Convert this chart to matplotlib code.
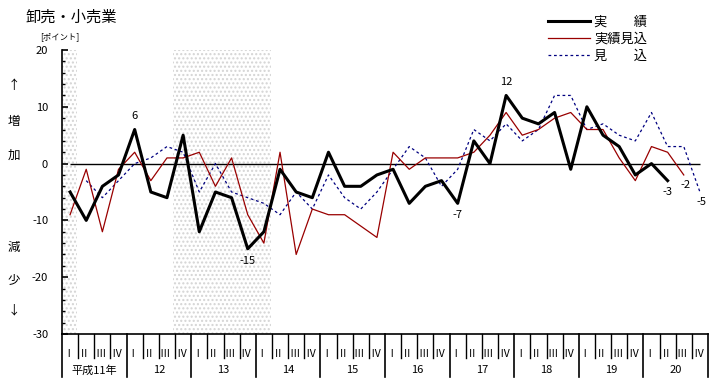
import matplotlib.pyplot as plt

plt.rcParams['font.family'] = ['Noto Sans CJK JP', 'DejaVu Sans']

# data: quarterly, 平成11年 I to 平成20年 IV (40 quarters)
quarters = ['Ⅰ', 'Ⅱ', 'Ⅲ', 'Ⅳ']
years = ['平成11年', '12', '13', '14', '15', '16', '17', '18', '19', '20']

actual = [-5, -10, -4, -2, 6, -5, -6, 5, -12, -5,
          -6, -15, -12, -1, -5, -6, 2, -4, -4, -2,
          -1, -7, -4, -3, -7, 4, 0, 12, 8, 7,
          9, -1, 10, 5, 3, -2, 0, -3]
estimate = [-9, -1, -12, -1, 2, -3, 1, 1, 2, -4,
            1, -9, -14, 2, -16, -8, -9, -9, -11, -13,
            2, -1, 1, 1, 1, 2, 5, 9, 5, 6,
            8, 9, 6, 6, 1, -3, 3, 2, -2]
outlook = [None, -3, -6, -3, 0, 1, 3, 2, -5, 0,
           -5, -6, -7, -9, -5, -8, -2, -6, -8, -5,
           -1, 3, 1, -4, -1, 6, 4, 7, 4, 6,
           12, 12, 6, 7, 5, 4, 9, 3, 3, -5]

# shaded periods (quarter index ranges)
shade = [(-0.5, 0.45), (6.4, 12.45)]

fig = plt.figure(figsize=(7.21, 3.91), dpi=100)
ax = fig.add_axes([62/721, 1-334/391, 646/721, 284/391])

for a, b in shade:
    ax.axvspan(a, b, facecolor='white', edgecolor='#d4d4d4', hatch='....', lw=0, zorder=0)

ax.hlines(0, 0, 39, color='black', lw=1, zorder=1)

xa = list(range(len(actual)))
xe = list(range(len(estimate)))
xo = [i for i in range(len(outlook)) if outlook[i] is not None]
yo = [v for v in outlook if v is not None]

ax.plot(xa, actual, color='black', lw=2.2, zorder=4, label='実　　績')
ax.plot(xe, estimate, color='#990000', lw=0.9, zorder=3, label='実績見込')
ax.plot(xo, yo, color='#000080', lw=0.9, ls=(0, (2.2, 2.2)), zorder=2, label='見　　込')

ax.set_xlim(-0.5, 39.5)
ax.set_ylim(-30, 20)
for s in ['top', 'right']:
    ax.spines[s].set_visible(False)
ax.spines['left'].set_linewidth(1.2)
ax.spines['bottom'].set_linewidth(1.2)
ax.set_yticks([20, 10, 0, -10, -20, -30])
ax.set_yticklabels(['20', '10', '0', '-10', '-20', '-30'], fontsize=8)
ax.set_yticks(range(-30, 21, 2), minor=True)
ax.tick_params(axis='y', which='major', direction='in', length=4, width=1.2, pad=10)
ax.tick_params(axis='y', which='minor', direction='in', length=2, width=1)
ax.set_xticks([])

# point labels
ax.text(4, 6 + 1.5, '6', ha='center', va='bottom', fontsize=8)
ax.text(11, -15 - 1.2, '-15', ha='center', va='top', fontsize=8)
ax.text(24, -7 - 1.2, '-7', ha='center', va='top', fontsize=8)
ax.text(27, 12 + 1.5, '12', ha='center', va='bottom', fontsize=8)
ax.text(37, -3 - 1.2, '-3', ha='center', va='top', fontsize=8)
ax.text(38.1, -2 - 0.8, '-2', ha='center', va='top', fontsize=8)
ax.text(39.1, -5 - 0.9, '-5', ha='center', va='top', fontsize=8)

# x axis: quarter and year rows
trans = ax.get_xaxis_transform()
for i in range(41):
    if i % 4 == 0:
        ax.plot([i - 0.5, i - 0.5], [0, -0.152], transform=trans, color='black', lw=1.2, clip_on=False)
    else:
        ax.plot([i - 0.5, i - 0.5], [0, -0.085], transform=trans, color='black', lw=1, clip_on=False)
for i in range(40):
    ax.text(i - 0.12, -0.07, quarters[i % 4], transform=trans, ha='center', va='center', fontsize=7.5)
for k, y in enumerate(years):
    ax.text(4 * k + 1.5, -0.128, y, transform=trans, ha='center', va='center', fontsize=8)

# side annotations
fig.text(25/721, 1-17/391, '卸売・小売業', fontsize=11, va='center', ha='left')
fig.text(40/721, 1-37/391, '[ポイント]', fontsize=6, va='center', ha='left')
for y, t in [(85, '↑'), (122, '増'), (155, '加'), (247, '減'), (280, '少'), (310, '↓')]:
    fig.text(14/721, 1-y/391, t, fontsize=9, va='center', ha='center')

leg = fig.legend(loc='upper left', bbox_to_anchor=(536/721, 1-4/391), frameon=False,
                 fontsize=9.5, handlelength=3.2, handletextpad=0.3, labelspacing=0.3)

fig.savefig('out.png', dpi=100)
